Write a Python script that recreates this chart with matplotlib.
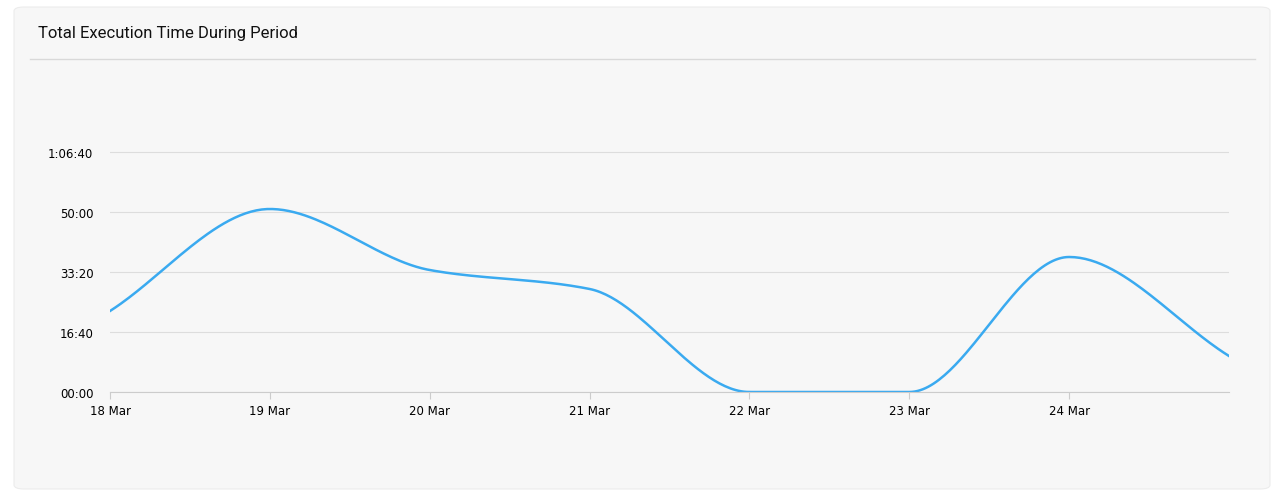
import numpy as np
import matplotlib
matplotlib.use("Agg")
import matplotlib.pyplot as plt
from matplotlib.patches import FancyBboxPatch
from matplotlib.ticker import FuncFormatter

days = ["18 Mar", "19 Mar", "20 Mar", "21 Mar", "22 Mar", "23 Mar", "24 Mar", ""]
seconds = [1350, 3050, 2033, 1717, 0, 0, 2250, 600]
yticks = [0, 1000, 2000, 3000, 4000]

def monotone(x, y, n=60):
    x = np.asarray(x, float); y = np.asarray(y, float)
    h = np.diff(x); d = np.diff(y) / h
    m = np.zeros_like(y)
    m[0], m[-1] = d[0], d[-1]
    for i in range(1, len(y) - 1):
        if d[i-1] * d[i] <= 0:
            m[i] = 0
        else:
            w1 = 2*h[i] + h[i-1]; w2 = h[i] + 2*h[i-1]
            m[i] = (w1 + w2) / (w1/d[i-1] + w2/d[i])
    xs, ys = [], []
    for i in range(len(x) - 1):
        t = np.linspace(0, 1, n)
        h00 = 2*t**3 - 3*t**2 + 1; h10 = t**3 - 2*t**2 + t
        h01 = -2*t**3 + 3*t**2; h11 = t**3 - t**2
        xs.append(x[i] + t*h[i])
        ys.append(h00*y[i] + h10*h[i]*m[i] + h01*y[i+1] + h11*h[i]*m[i+1])
    return np.concatenate(xs), np.concatenate(ys)

W, H = 1283, 502
fig = plt.figure(figsize=(W/100, H/100), dpi=100)
fig.patch.set_facecolor("white")
card = FancyBboxPatch((14/W, 1-490/H), (1270-14)/W, (490-8)/H,
                      boxstyle="round,pad=0,rounding_size=0.008",
                      transform=fig.transFigure, facecolor="#f7f7f7",
                      edgecolor="#ececec", lw=0.8, zorder=-10)
fig.patches.append(card)
fig.add_artist(plt.Line2D([30/W, 1255/W], [1-60/H, 1-60/H], transform=fig.transFigure,
                          color="#d9d9d9", lw=1, zorder=-5))
fig.text(38/W, 1-34/H, "Total Execution Time During Period", fontsize=12,
         va="center", ha="left", color="#111111", family="Roboto")

ax = fig.add_axes([110/W, 1-393/H, (1229-110)/W, (393-93)/H], zorder=5)
ax.set_facecolor("none")
ax.patch.set_alpha(0)
x = np.arange(len(seconds))
xs, ys = monotone(x, seconds)
ax.plot(xs, ys, color="#3aaaf0", lw=1.8)
ax.set_xlim(0, len(seconds) - 1)
ax.set_ylim(0, 5000)
ax.set_yticks(yticks)
def fmt(v, p):
    v = int(v); h, r = divmod(v, 3600); m, s = divmod(r, 60)
    return f"{h}:{m:02d}:{s:02d}" if h else f"{m:02d}:{s:02d}"
ax.yaxis.set_major_formatter(FuncFormatter(fmt))
ax.set_xticks(x[:-1])
ax.set_xticklabels(days[:-1])
ax.grid(axis="y", color="#dddddd", lw=0.8)
ax.set_axisbelow(True)
for s in ["top", "right", "left"]:
    ax.spines[s].set_visible(False)
ax.spines["bottom"].set_color("#cccccc")
ax.tick_params(axis="y", length=0, labelsize=8.5, pad=12)
ax.tick_params(axis="x", length=5, color="#cccccc", labelsize=8.5)
fig.savefig("out.png", dpi=100)
